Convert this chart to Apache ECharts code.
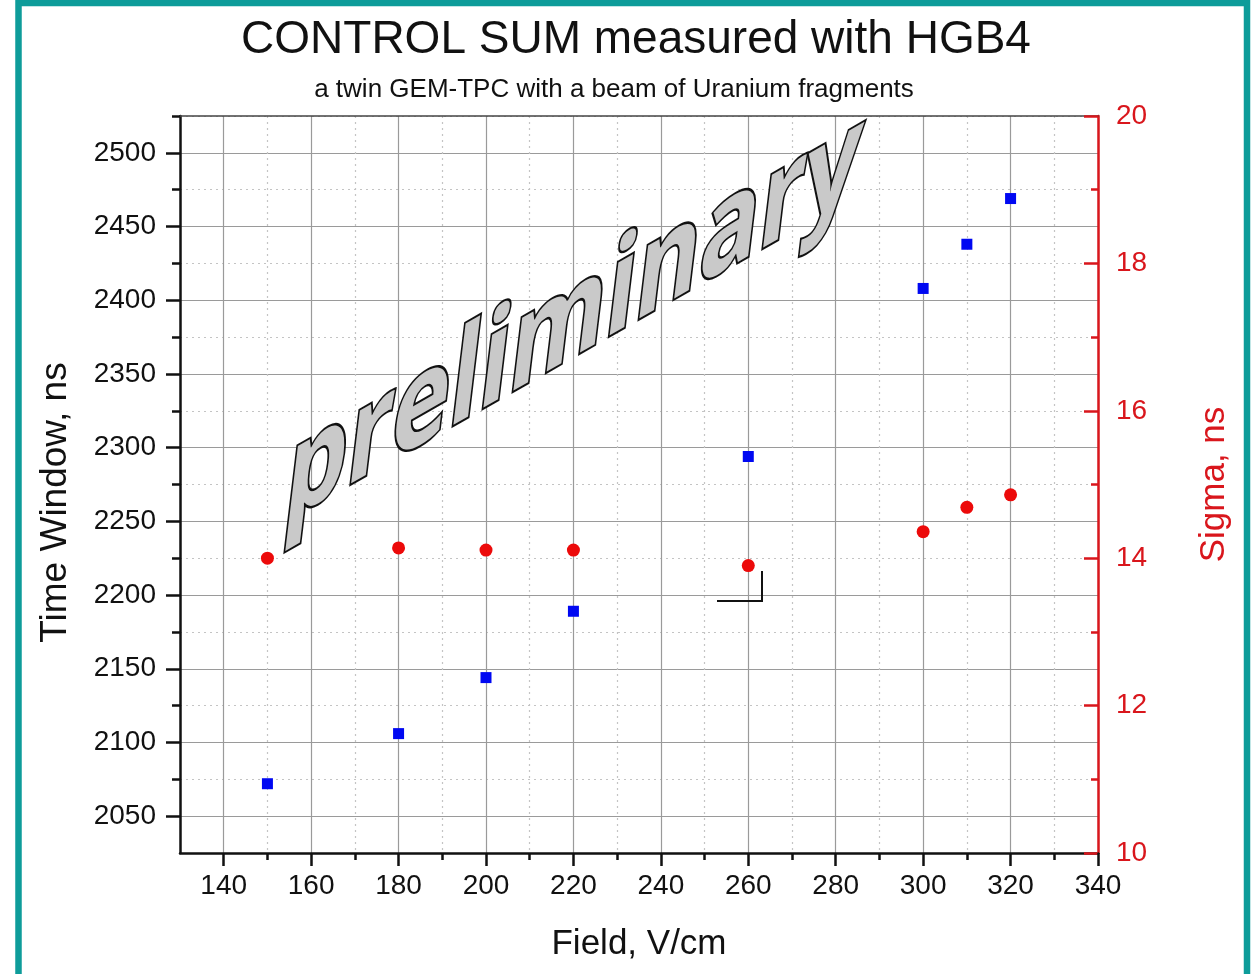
<!DOCTYPE html>
<html lang="en">
<head>
    <meta charset="UTF-8">
    <title>CONTROL SUM measured with HGB4</title>
    <script src="https://cdn.jsdelivr.net/npm/echarts@6/dist/echarts.min.js"></script>
    <style>
        html, body { margin: 0; background: #fff; }
        #chart { width: 1258px; height: 974px; }
    </style>
</head>
<body>
    <div id="chart"></div>

    <script>
        // data
        var field = [150, 180, 200, 220, 260, 300, 310, 320];
        var timeWindow = [2072, 2106, 2144, 2189, 2294, 2408, 2438, 2469];
        var sigma = [14.0, 14.14, 14.11, 14.11, 13.9, 14.36, 14.69, 14.86];

        // tick values
        var xMajor = [140, 160, 180, 200, 220, 240, 260, 280, 300, 320, 340];
        var xMinor = [150, 170, 190, 210, 230, 250, 270, 290, 310, 330];
        var yMajor = [2050, 2100, 2150, 2200, 2250, 2300, 2350, 2400, 2450, 2500];
        var yMinor = [2075, 2125, 2175, 2225, 2275, 2325, 2375, 2425, 2475, 2525];

        var FONT = '"Liberation Sans", Arial, sans-serif';
        var RED = '#d9161c';

        var chart = echarts.init(document.getElementById('chart'));

        function pairs(xs, ys) {
            return xs.map(function (x, i) { return [x, ys[i]]; });
        }
        function plain(v) { return String(v); }

        var option = {
            backgroundColor: '#fff',
            animation: false,
            grid: { left: 180, right: 160, top: 116, bottom: 121 },
            xAxis: [
                {
                    type: 'value', min: 130, max: 340, position: 'bottom',
                    name: 'Field, V/cm', nameLocation: 'middle', nameGap: 74,
                    nameTextStyle: { fontFamily: FONT, fontSize: 35, color: '#111' },
                    axisLine: { onZero: false, lineStyle: { color: '#111', width: 2.5 } },
                    axisTick: { customValues: xMajor, length: 13, lineStyle: { color: '#111', width: 2.5 } },
                    axisLabel: { customValues: xMajor, formatter: plain, margin: 19, fontFamily: FONT, fontSize: 28, color: '#111' },
                    splitLine: { show: true, lineStyle: { color: '#9a9a9a', width: 1.2 } }
                },
                {
                    type: 'value', min: 130, max: 340, position: 'bottom',
                    axisLine: { show: false },
                    axisTick: { customValues: xMinor, length: 7, lineStyle: { color: '#111', width: 2.5 } },
                    axisLabel: { show: false },
                    splitLine: { show: true, lineStyle: { color: '#c4c4c4', width: 1.2, type: [2, 4] } }
                },
                {
                    type: 'value', min: 130, max: 340, position: 'top',
                    axisLine: { onZero: false, lineStyle: { color: '#444', width: 1.5 } },
                    axisTick: { show: false },
                    axisLabel: { show: false },
                    splitLine: { show: false }
                }
            ],
            yAxis: [
                {
                    type: 'value', min: 2025, max: 2525, position: 'left',
                    name: 'Time Window, ns', nameLocation: 'middle', nameGap: 106,
                    nameTextStyle: { fontFamily: FONT, fontSize: 37, color: '#111', padding: [0, 36, 0, 0] },
                    axisLine: { onZero: false, lineStyle: { color: '#111', width: 2.5 } },
                    axisTick: { customValues: yMajor, length: 14, lineStyle: { color: '#111', width: 2.5 } },
                    axisLabel: { customValues: yMajor, formatter: plain, margin: 24, fontFamily: FONT, fontSize: 28, color: '#111' },
                    splitLine: { show: true, lineStyle: { color: '#9a9a9a', width: 1.2 } }
                },
                {
                    type: 'value', min: 2025, max: 2525, position: 'left',
                    axisLine: { show: false },
                    axisTick: { customValues: yMinor, length: 8, lineStyle: { color: '#111', width: 2.5 } },
                    axisLabel: { show: false },
                    splitLine: { show: true, lineStyle: { color: '#c4c4c4', width: 1.2, type: [2, 4] } }
                },
                {
                    type: 'value', min: 10, max: 20, interval: 2, position: 'right',
                    name: 'Sigma, ns', nameLocation: 'middle', nameGap: 99,
                    nameTextStyle: { fontFamily: FONT, fontSize: 35, color: RED },
                    axisLine: { onZero: false, lineStyle: { color: RED, width: 2.5 } },
                    axisTick: { inside: true, length: 14, lineStyle: { color: RED, width: 2.5 } },
                    minorTick: { show: true, splitNumber: 2, length: 7, lineStyle: { color: RED, width: 2.5 } },
                    axisLabel: { margin: 18, fontFamily: FONT, fontSize: 28, color: RED },
                    splitLine: { show: false }
                }
            ],
            series: [
                {
                    name: 'Time Window',
                    type: 'scatter',
                    xAxisIndex: 0, yAxisIndex: 0,
                    symbol: 'rect', symbolSize: 11,
                    itemStyle: { color: '#0008f2', opacity: 1 },
                    data: pairs(field, timeWindow),
                    z: 5
                },
                {
                    name: 'Sigma',
                    type: 'scatter',
                    xAxisIndex: 0, yAxisIndex: 2,
                    symbol: 'circle', symbolSize: 13,
                    itemStyle: { color: '#ec0a0a', opacity: 1 },
                    data: pairs(field, sigma),
                    z: 5
                }
            ],
            graphic: [
                {
                    type: 'rect', z: 100, silent: true,
                    shape: { x: 18.5, y: 3, width: 1228.5, height: 1100 },
                    style: { fill: 'none', stroke: '#0e9c9a', lineWidth: 6.5 }
                },
                {
                    type: 'text', x: 636, y: 40, z: 50,
                    style: {
                        text: 'CONTROL SUM measured with HGB4',
                        font: '46px ' + FONT, fill: '#111',
                        align: 'center', verticalAlign: 'middle'
                    }
                },
                {
                    type: 'text', x: 614, y: 90, z: 50,
                    style: {
                        text: 'a twin GEM-TPC with a beam of Uranium fragments',
                        font: '26px ' + FONT, fill: '#111',
                        align: 'center', verticalAlign: 'middle'
                    }
                },
                {
                    // small corner mark near 260
                    type: 'polyline', z: 40, silent: true,
                    shape: { points: [[717, 601], [762, 601], [762, 571]] },
                    style: { fill: 'none', stroke: '#111', lineWidth: 2 }
                },
                {
                    // watermark
                    type: 'text', x: 278, y: 552, z: 60, silent: true,
                    skewY: 0.52, skewX: -0.12, scaleX: 1.0, scaleY: 1.36,
                    style: {
                        text: 'preliminary',
                        fontFamily: '"Open Sans", "DejaVu Sans", sans-serif',
                        fontWeight: 'bold', fontSize: 98,
                        fill: '#c9c9c9', stroke: '#111', lineWidth: 3.5,
                        align: 'left', verticalAlign: 'bottom'
                    }
                }
            ]
        };

        chart.setOption(option);
    </script>
</body>
</html>
